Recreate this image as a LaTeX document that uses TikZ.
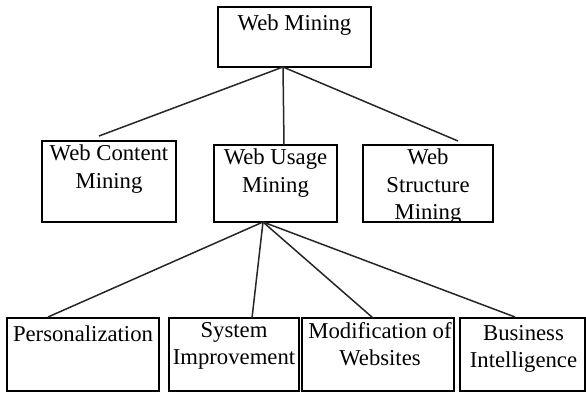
\documentclass[tikz,border=0pt]{standalone}
\usepackage{fontspec}
\setmainfont{Liberation Serif}
\tikzset{
  blk/.style={draw, line width=2pt, inner sep=0pt, outer sep=0pt},
  txt/.style={anchor=north, inner sep=0pt, align=center,
    font=\fontsize{22.7}{27.5}\selectfont, execute at begin node=\strut},
  link/.style={draw=black!85, line width=1.5pt}
}
\begin{document}
\begin{tikzpicture}[x=1pt, y=-1pt]
  \useasboundingbox (0,0) rectangle (586,394);
  % draw boxes
  \node[blk, minimum width=153pt, minimum height=60pt] (web)       at (294.5, 37)   {};
  \node[blk, minimum width=134pt, minimum height=81pt] (content)   at (109,  181.5) {};
  \node[blk, minimum width=123pt, minimum height=77pt] (usage)     at (275.5,183.5) {};
  \node[blk, minimum width=130pt, minimum height=77pt] (structure) at (428,  183.5) {};
  \node[blk, minimum width=152pt, minimum height=73pt] (pers)      at ( 83,  354.5) {};
  \node[blk, minimum width=130pt, minimum height=73pt] (sysimp)    at (234,  354.5) {};
  \node[blk, minimum width=152pt, minimum height=73pt] (modif)     at (378,  354.5) {};
  \node[blk, minimum width=125pt, minimum height=73pt] (busi)      at (522.5,354.5) {};

  % draw texts
  \node[txt] (webtxt)       at ([yshift=-4pt]web.north)         {Web Mining};
  \node[txt] (contenttxt)   at ([yshift=-4pt]content.north)     {Web Content\\Mining};
  \node[txt] (usagetxt)     at ([yshift=-4pt]usage.north)       {Web Usage\\Mining};
  % text runs past the bottom line here
  \begin{scope}
    \clip (structure.north west) rectangle ([yshift=1pt]structure.south east);
    \node[txt] (structuretxt) at ([yshift=-4pt]structure.north) {Web\\Structure\\Mining};
  \end{scope}
  \node[txt] (perstxt)      at ([yshift=-4pt]pers.north)        {Personalization};
  \node[txt] (sysimptxt)    at ([yshift=-4pt]sysimp.north)      {System\\Improvement};
  \node[txt] (modiftxt)     at ([xshift=2pt,yshift=-4pt]modif.north) {Modification of\\Websites};
  \node[txt] (busitxt)      at ([xshift=1pt,yshift=-7pt]busi.north)  {Business\\Intelligence};

  % draw links
  % web mining
  \coordinate (webhub) at ([xshift=-11.5pt]web.south);
  \draw[link] (webhub) -- ([xshift=-10pt,yshift=5pt]content.north);
  \draw[link] (webhub) -- ([xshift=8.5pt]usage.north);
  \draw[link] (webhub) -- ([xshift=30pt,yshift=4pt]structure.north);
  % web usage mining
  \coordinate (usagehub) at ([xshift=-12.5pt]usage.south);
  \draw[link] (usagehub) -- ([xshift=-35pt,yshift=1pt]pers.north);
  \draw[link] (usagehub) -- ([xshift=18pt]sysimp.north);
  \draw[link] (usagehub) -- ([xshift=-5pt]modif.north);
  \draw[link] (usagehub) -- ([xshift=-7.5pt,yshift=1pt]busi.north);
\end{tikzpicture}
\end{document}
